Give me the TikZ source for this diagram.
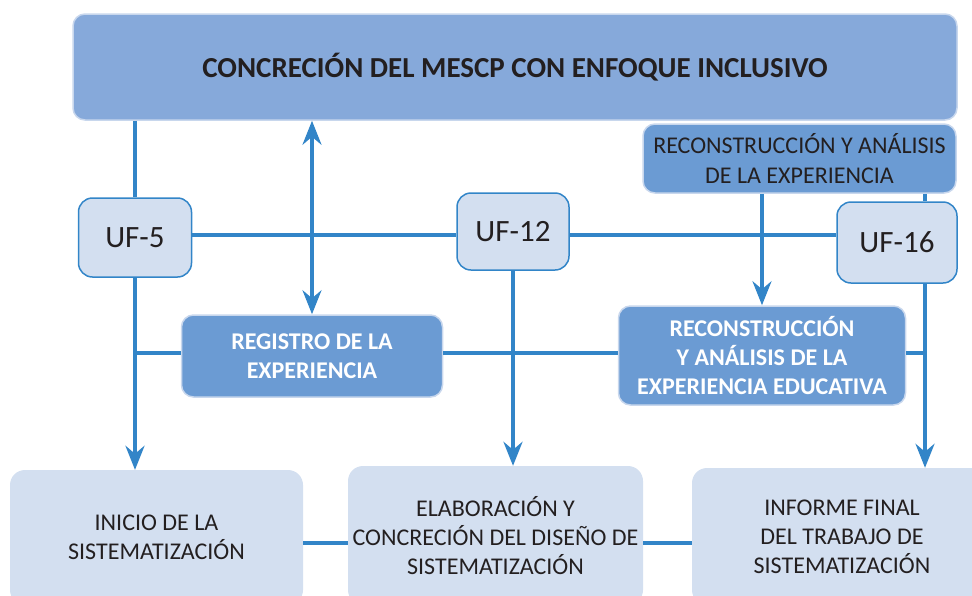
\documentclass[tikz,border=0pt]{standalone}
\usepackage{fontspec}
\setmainfont{Carlito}
\usetikzlibrary{arrows.meta}
\definecolor{titlefill}{RGB}{134,169,218}
\definecolor{midfill}{RGB}{107,155,211}
\definecolor{lightfill}{RGB}{211,223,240}
\definecolor{linecol}{RGB}{50,133,200}
\definecolor{edgelight}{RGB}{200,215,237}
\definecolor{txt}{RGB}{35,31,32}
\tikzset{
  box/.style={rectangle, rounded corners=12pt, inner sep=0pt, align=center, text=txt},
  titlebox/.style={box, fill=titlefill, draw=edgelight, line width=1.5pt, font=\fontsize{29}{34}\selectfont\bfseries},
  midbox/.style={box, fill=midfill, draw=edgelight, line width=1.5pt, font=\fontsize{24}{30}\selectfont},
  whitebox/.style={box, fill=midfill, draw=edgelight, line width=1.5pt, text=white, font=\fontsize{24}{29}\selectfont\bfseries},
  ufbox/.style={box, rounded corners=14pt, fill=lightfill, draw=linecol, line width=1.5pt, font=\fontsize{31}{36}\selectfont},
  basebox/.style={box, rounded corners=15pt, fill=lightfill, font=\fontsize{24}{29}\selectfont},
  conn/.style={draw=linecol, line width=3.6pt},
  arr/.style={conn, -{Stealth[length=24pt,width=19pt,inset=8pt]}},
  darr/.style={conn, {Stealth[length=24pt,width=19pt,inset=8pt]}-{Stealth[length=24pt,width=19pt,inset=8pt]}}
}
\begin{document}
\begin{tikzpicture}[x=1pt,y=-1pt]
\useasboundingbox (0,0) rectangle (972,595);
% nodes
\node[titlebox, minimum width=884pt, minimum height=106pt] (top) at (515,67) {CONCRECIÓN DEL MESCP CON ENFOQUE INCLUSIVO};
\node[midbox, minimum width=313pt, minimum height=69pt] (rec1) at (799.5,158.5) {RECONSTRUCCIÓN Y ANÁLISIS\\DE LA EXPERIENCIA};
\node[ufbox, minimum width=113pt, minimum height=79pt] (uf5) at (135,237.5) {UF-5};
\node[ufbox, minimum width=112pt, minimum height=77pt] (uf12) at (513,231.5) {UF-12};
\node[ufbox, minimum width=120pt, minimum height=81pt] (uf16) at (897,242.5) {UF-16};
\node[whitebox, minimum width=261pt, minimum height=82pt] (reg) at (312,356) {REGISTRO DE LA\\EXPERIENCIA};
\node[whitebox, minimum width=287pt, minimum height=99pt] (rec2) at (762,355.5) {RECONSTRUCCIÓN\\Y ANÁLISIS DE LA\\EXPERIENCIA EDUCATIVA};
\node[basebox, minimum width=293pt, minimum height=135pt] (ini) at (156.5,537.5) {INICIO DE LA\\SISTEMATIZACIÓN};
\node[basebox, minimum width=295pt, minimum height=139pt] (elab) at (495.5,535.5) {ELABORACIÓN Y\\CONCRECIÓN DEL DISEÑO DE\\SISTEMATIZACIÓN};
\node[basebox, minimum width=300pt, minimum height=137pt] (inf) at (842,536.5) {INFORME FINAL\\DEL TRABAJO DE\\SISTEMATIZACIÓN};
% helper coordinates
\coordinate (c16) at (925,0);
\coordinate (h1) at (0,235);
\coordinate (h2) at (0,353);
\coordinate (h3) at (0,543);
% vertical connectors
\draw[conn] (top.south -| uf5) -- (uf5.north);
\draw[arr] (uf5.south) -- (ini.north -| uf5);
\draw[darr] (top.south -| reg) -- (reg.north);
\draw[arr] (uf12.south) -- (elab.north -| uf12);
\draw[arr] (rec1.south -| rec2) -- (rec2.north);
\draw[conn] (rec1.south -| c16) -- (uf16.north -| c16);
\draw[arr] (uf16.south -| c16) -- (inf.north -| c16);
% horizontal connectors
\draw[conn] (uf5.east |- h1) -- (uf12.west |- h1);
\draw[conn] (uf12.east |- h1) -- (uf16.west |- h1);
\draw[conn] (uf5 |- h2) -- (reg.west |- h2);
\draw[conn] (reg.east |- h2) -- (rec2.west |- h2);
\draw[conn] (rec2.east |- h2) -- (c16 |- h2);
\draw[conn] (ini.east |- h3) -- (elab.west |- h3);
\draw[conn] (elab.east |- h3) -- (inf.west |- h3);
\end{tikzpicture}
\end{document}
